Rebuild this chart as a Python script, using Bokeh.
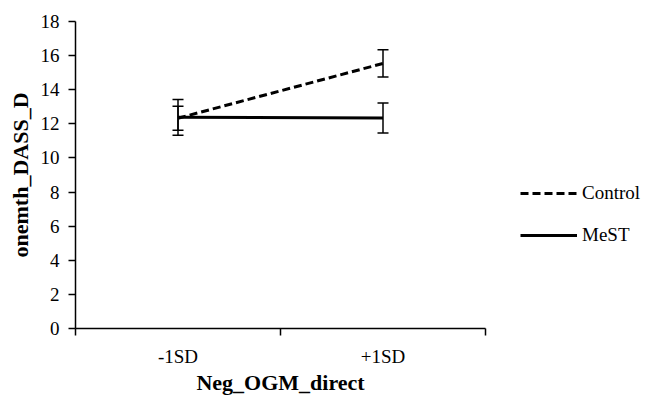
from bokeh.plotting import figure
from bokeh.models import (Range1d, FixedTicker, Whisker, TeeHead, ColumnDataSource,
                          Legend, LegendItem)
from bokeh.embed import file_html
from bokeh.resources import INLINE

# ---- data ----
categories = ["-1SD", "+1SD"]
control_mean = [12.33, 15.54]
control_err = [0.70, 0.80]
mest_mean = [12.38, 12.34]
mest_err = [1.05, 0.88]
y_ticks = [0, 2, 4, 6, 8, 10, 12, 14, 16, 18]
x_title = "Neg_OGM_direct"
y_title = "onemth_DASS_D"

FONT = "Liberation Serif"

# category centres on a numeric axis whose boundaries carry the ticks
xc = [i + 0.5 for i in range(len(categories))]
edges = list(range(len(categories) + 1))

p = figure(frame_width=410, frame_height=307, output_backend="svg", toolbar_location=None,
           x_range=Range1d(0, len(categories)), y_range=Range1d(0, 18),
           min_border_left=75, min_border_right=163, min_border_top=21,
           min_border_bottom=64)
p.outline_line_color = None
p.xgrid.visible = False
p.ygrid.visible = False
p.background_fill_color = "white"
p.border_fill_color = "white"

# x axis
xa = p.xaxis[0]
xa.ticker = FixedTicker(ticks=xc, minor_ticks=edges)
xa.major_label_overrides = {v: c for v, c in zip(xc, categories)}
xa.major_tick_line_color = None
xa.major_tick_out = 0
xa.major_tick_in = 0
xa.minor_tick_out = 7
xa.minor_tick_in = 0
xa.minor_tick_line_color = "black"
xa.minor_tick_line_width = 1.5
xa.axis_line_color = "black"
xa.axis_line_width = 1.5
xa.major_label_standoff = 10
xa.major_label_text_font = FONT
xa.major_label_text_font_size = "19px"
xa.major_label_text_color = "black"
xa.axis_label = x_title
xa.axis_label_text_font = FONT
xa.axis_label_text_font_size = "22px"
xa.axis_label_text_font_style = "bold"
xa.axis_label_text_color = "black"
xa.axis_label_standoff = 0

# y axis
ya = p.yaxis[0]
ya.ticker = FixedTicker(ticks=y_ticks)
ya.major_tick_out = 7
ya.major_tick_in = 0
ya.major_tick_line_width = 1.5
ya.minor_tick_line_color = None
ya.axis_line_width = 1.5
ya.axis_line_color = "black"
ya.major_label_standoff = 9
ya.major_label_text_font = FONT
ya.major_label_text_font_size = "19px"
ya.major_label_text_color = "black"
ya.axis_label = y_title
ya.axis_label_text_font = FONT
ya.axis_label_text_font_size = "22px"
ya.axis_label_text_font_style = "bold"
ya.axis_label_text_color = "black"
ya.axis_label_standoff = 5

# error bars
for mean, err in ((control_mean, control_err), (mest_mean, mest_err)):
    src = ColumnDataSource(dict(x=xc,
                                lo=[m - e for m, e in zip(mean, err)],
                                hi=[m + e for m, e in zip(mean, err)]))
    w = Whisker(base="x", lower="lo", upper="hi", source=src, dimension="height",
                line_color="black", line_width=1.5,
                upper_head=TeeHead(size=11, line_color="black", line_width=1.5),
                lower_head=TeeHead(size=11, line_color="black", line_width=1.5))
    p.add_layout(w)

# lines
r_ctrl = p.line(xc, control_mean, line_color="black", line_width=3, line_dash="8 4")
r_mest = p.line(xc, mest_mean, line_color="black", line_width=3)

legend = Legend(items=[LegendItem(label="Control", renderers=[r_ctrl]),
                       LegendItem(label="MeST", renderers=[r_mest])],
                location=(35, 82), orientation="vertical",
                glyph_width=57, glyph_height=20, label_height=20,
                label_standoff=5, spacing=20, padding=0, margin=0,
                border_line_color=None, background_fill_alpha=0,
                label_text_font=FONT, label_text_font_size="19px",
                label_text_color="black")
p.add_layout(legend, "right")

open("out.html", "w").write(file_html(p, INLINE))
